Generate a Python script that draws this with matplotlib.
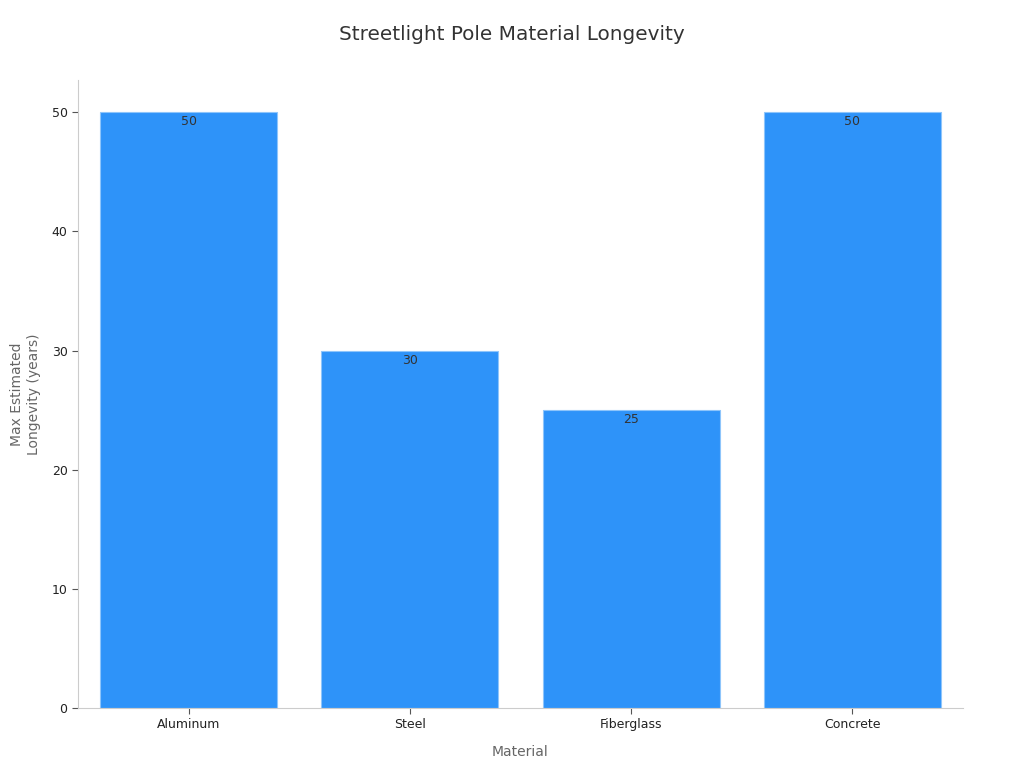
import matplotlib
matplotlib.use("Agg")
import matplotlib.pyplot as plt

materials = ["Aluminum", "Steel", "Fiberglass", "Concrete"]
longevity = [50, 30, 25, 50]

fig = plt.figure(figsize=(10.24, 7.68), dpi=100)
ax = fig.add_axes([0.0762, 0.0781, 0.8642, 0.8177])

bars = ax.bar(range(len(materials)), longevity, width=0.8,
              color="#2E93F9", edgecolor="#8EC5FB", linewidth=0.8)

for b, v in zip(bars, longevity):
    ax.text(b.get_x() + b.get_width() / 2, v - 0.25, str(v),
            ha="center", va="top", fontsize=9, color="#333333")

ax.set_xlim(-0.5, 3.5)
ax.set_ylim(0, 52.7)
ax.set_xticks(range(len(materials)))
ax.set_xticklabels(materials)
ax.set_yticks([0, 10, 20, 30, 40, 50])

for s in ["top", "right"]:
    ax.spines[s].set_visible(False)
for s in ["left", "bottom"]:
    ax.spines[s].set_color("#cccccc")
ax.tick_params(axis="both", colors="#555555", labelcolor="#222222", labelsize=9, length=4)

ax.set_xlabel("Material", fontsize=10, color="#666666", labelpad=10)
ax.set_ylabel("Max Estimated\nLongevity (years)", fontsize=10, color="#666666", labelpad=8)
fig.suptitle("Streetlight Pole Material Longevity", fontsize=14.4, color="#333333", y=0.968)

fig.savefig("out.png", dpi=100)
